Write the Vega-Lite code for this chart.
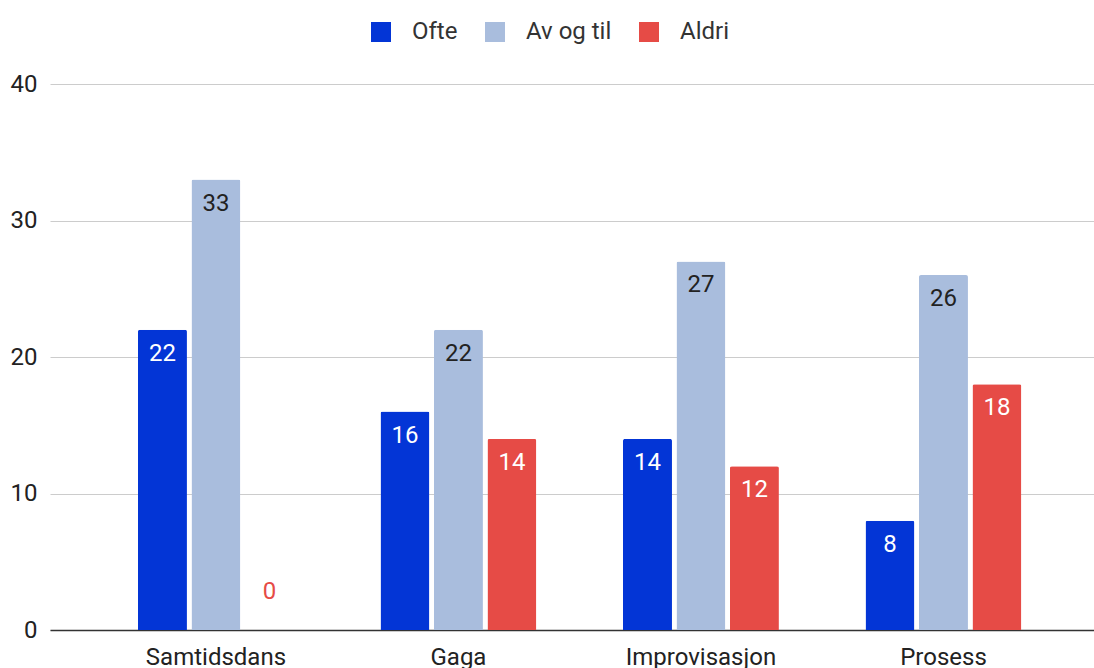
{
  "$schema": "https://vega.github.io/schema/vega-lite/v6.json",
  "width": 1044,
  "height": 546,
  "autosize": {"type": "none"},
  "padding": {"left": 50, "top": 84, "right": 0, "bottom": 38},
  "background": "white",
  "config": {"font": "Roboto", "view": {"stroke": null}},
  "data": {
    "values": [
      {"kategori": "Samtidsdans", "svar": "Ofte", "antall": 22},
      {"kategori": "Samtidsdans", "svar": "Av og til", "antall": 33},
      {"kategori": "Samtidsdans", "svar": "Aldri", "antall": 0},
      {"kategori": "Gaga", "svar": "Ofte", "antall": 16},
      {"kategori": "Gaga", "svar": "Av og til", "antall": 22},
      {"kategori": "Gaga", "svar": "Aldri", "antall": 14},
      {"kategori": "Improvisasjon", "svar": "Ofte", "antall": 14},
      {"kategori": "Improvisasjon", "svar": "Av og til", "antall": 27},
      {"kategori": "Improvisasjon", "svar": "Aldri", "antall": 12},
      {"kategori": "Prosess", "svar": "Ofte", "antall": 8},
      {"kategori": "Prosess", "svar": "Av og til", "antall": 26},
      {"kategori": "Prosess", "svar": "Aldri", "antall": 18}
    ]
  },
  "encoding": {
    "x": {
      "field": "kategori",
      "type": "nominal",
      "sort": null,
      "scale": {"paddingInner": 0.357, "paddingOuter": 0.331, "align": 0.548},
      "axis": {
        "title": null,
        "labelAngle": 0,
        "labelFontSize": 24,
        "labelColor": "#222222",
        "labelPadding": 15,
        "labelBaseline": "top",
        "ticks": false,
        "domainColor": "#333333",
        "domainWidth": 1.5,
        "grid": false
      }
    },
    "xOffset": {
      "field": "svar",
      "type": "nominal",
      "scale": {"domain": ["Ofte", "Av og til", "Aldri"], "paddingInner": 0.084, "paddingOuter": 0}
    },
    "y": {
      "field": "antall",
      "type": "quantitative",
      "scale": {"domain": [0, 40], "nice": false},
      "axis": {
        "title": null,
        "values": [0, 10, 20, 30, 40],
        "domain": false,
        "ticks": false,
        "labelFontSize": 24,
        "labelColor": "#222222",
        "labelPadding": 13,
        "gridColor": "#cccccc",
        "gridWidth": 1
      }
    }
  },
  "layer": [
    {
      "mark": {"type": "bar", "cornerRadiusTopLeft": 2, "cornerRadiusTopRight": 2},
      "encoding": {
        "color": {
          "field": "svar",
          "type": "nominal",
          "title": null,
          "scale": {"domain": ["Ofte", "Av og til", "Aldri"], "range": ["#0335d6", "#a9bddd", "#e64b46"]},
          "legend": {
            "orient": "none",
            "direction": "horizontal",
            "legendX": 319,
            "legendY": -64,
            "padding": 0,
            "symbolType": "square",
            "symbolSize": 400,
            "symbolStrokeWidth": 0,
            "symbolOpacity": 1,
            "labelFontSize": 24,
            "labelColor": "#333333",
            "labelOffset": 19,
            "columnPadding": 25
          }
        }
      }
    },
    {
      "transform": [{"filter": "datum.antall > 0"}],
      "mark": {"type": "text", "dy": 24, "fontSize": 24, "baseline": "middle"},
      "encoding": {
        "text": {"field": "antall", "type": "quantitative"},
        "color": {"condition": {"test": "datum.svar === 'Av og til'", "value": "#222222"}, "value": "#ffffff"}
      }
    },
    {
      "transform": [{"filter": "datum.antall == 0"}],
      "mark": {"type": "text", "dy": -38, "fontSize": 24, "baseline": "middle", "color": "#e64b46"},
      "encoding": {
        "text": {"field": "antall", "type": "quantitative"}
      }
    }
  ]
}
